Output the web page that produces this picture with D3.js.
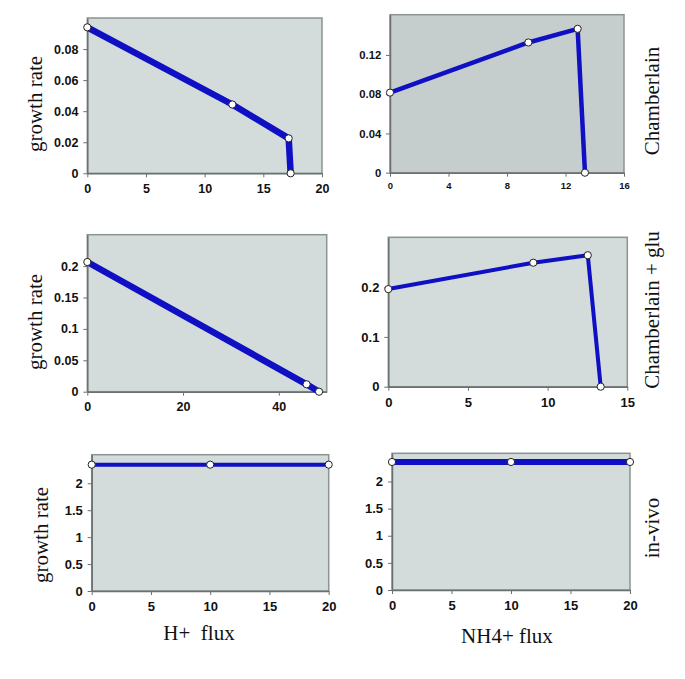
<!DOCTYPE html>
<html><head><meta charset="utf-8">
<script src="https://cdn.jsdelivr.net/npm/d3@7"></script>
<style>body{margin:0;background:#fff}svg{display:block}</style>
</head><body>
<svg id="c" width="685" height="679"></svg>
<script>
// Data
const hChamberlainX = [0, 12.36, 17.16, 17.33];
const hChamberlainY = [0.094, 0.0443, 0.0225, 0];
const nChamberlainX = [0, 9.46, 12.83, 13.33];
const nChamberlainY = [0.0816, 0.1327, 0.1466, 0];
const hGluX = [0, 45.8, 48.4];
const hGluY = [0.2065, 0.0118, 0];
const nGluX = [0, 9.1, 12.52, 13.33];
const nGluY = [0.196, 0.249, 0.264, 0];
const hVivoX = [0, 10, 20];
const hVivoY = [2.345, 2.345, 2.345];
const nVivoX = [0, 10, 20];
const nVivoY = [2.36, 2.36, 2.36];

const xTicks1 = [0, 5, 10, 15, 20];
const yTicks1 = [0, 0.02, 0.04, 0.06, 0.08];
const xTicks2 = [0, 4, 8, 12, 16];
const yTicks2 = [0, 0.04, 0.08, 0.12];
const xTicks3 = [0, 20, 40];
const yTicks3 = [0, 0.05, 0.1, 0.15, 0.2];
const xTicks4 = [0, 5, 10, 15];
const yTicks4 = [0, 0.1, 0.2];
const xTicks5 = [0, 5, 10, 15, 20];
const yTicks5 = [0, 0.5, 1, 1.5, 2];

const rowLabels = ["Chamberlain", "Chamberlain + glu", "in-vivo"];
const colLabels = ["H+  flux", "NH4+ flux"];
const yLabel = "growth rate";

const panels = [
  {x: hChamberlainX, y: hChamberlainY, xd: [0, 20], yd: [0, 0.1], xt: xTicks1, yt: yTicks1,
   box: [87.3, 18, 322, 173.3], bg: "#d3dbdb", lw: 6.5, fsx: 12.5, fsy: 12.5},
  {x: nChamberlainX, y: nChamberlainY, xd: [0, 16], yd: [0, 0.161], xt: xTicks2, yt: yTicks2,
   box: [390, 14.7, 624, 172.7], bg: "#c6cecd", lw: 4.5, fsx: 9.5, fsy: 11.3},
  {x: hGluX, y: hGluY, xd: [0, 50], yd: [0, 0.25], xt: xTicks3, yt: yTicks3,
   box: [87.3, 234.7, 326.7, 391.7], bg: "#d3dbdb", lw: 6.5, fsx: 12.5, fsy: 12.5},
  {x: nGluX, y: nGluY, xd: [0, 15], yd: [0, 0.3], xt: xTicks4, yt: yTicks4,
   box: [388.3, 237.3, 627.3, 386.7], bg: "#d3dbdb", lw: 4, fsx: 13, fsy: 13},
  {x: hVivoX, y: hVivoY, xd: [0, 20], yd: [0, 2.53], xt: xTicks5, yt: yTicks5,
   box: [91.7, 454.7, 328.7, 591], bg: "#d3dbdb", lw: 4, fsx: 13, fsy: 13},
  {x: nVivoX, y: nVivoY, xd: [0, 20], yd: [0, 2.52], xt: xTicks5, yt: yTicks5,
   box: [392, 453.3, 630, 590], bg: "#d3dbdb", lw: 6, fsx: 13, fsy: 13}
];

const svg = d3.select("#c");
const fmt = d => String(+d.toFixed(4));

panels.forEach(p => {
  const [x0, y0, x1, y1] = p.box;
  const xs = d3.scaleLinear().domain(p.xd).range([x0, x1]);
  const ys = d3.scaleLinear().domain(p.yd).range([y1, y0]);
  const g = svg.append("g");
  g.append("rect").attr("x", x0).attr("y", y0).attr("width", x1 - x0).attr("height", y1 - y0)
    .attr("fill", p.bg).attr("stroke", "#8c9393").attr("stroke-width", 1.5);

  const xa = g.append("g").attr("transform", `translate(0,${y1})`)
    .call(d3.axisBottom(xs).tickValues(p.xt).tickSize(4).tickSizeOuter(0).tickFormat(fmt));
  const ya = g.append("g").attr("transform", `translate(${x0},0)`)
    .call(d3.axisLeft(ys).tickValues(p.yt).tickSize(4).tickSizeOuter(0).tickFormat(fmt));
  [xa, ya].forEach(a => {
    a.select(".domain").attr("stroke", "#6a7070").attr("stroke-width", 1.5);
    a.selectAll(".tick line").attr("stroke", "#6a7070");
    a.selectAll("text").attr("fill", "#111").attr("font-family", "Liberation Sans, Arial, sans-serif")
      .attr("font-weight", "bold");
  });
  xa.selectAll("text").attr("font-size", p.fsx).attr("dy", "1.0em");
  ya.selectAll("text").attr("font-size", p.fsy).attr("dx", "-0.15em");

  const pts = p.x.map((v, i) => [v, p.y[i]]);
  g.append("path").datum(pts)
    .attr("d", d3.line().x(d => xs(d[0])).y(d => ys(d[1])))
    .attr("fill", "none").attr("stroke", "#0f0fc4").attr("stroke-width", p.lw)
    .attr("stroke-linejoin", "round");
  g.selectAll("circle.pt").data(pts).join("circle")
    .attr("cx", d => xs(d[0])).attr("cy", d => ys(d[1])).attr("r", 3.6)
    .attr("fill", "#fff").attr("stroke", "#222").attr("stroke-width", 1);
});

const serif = "Liberation Serif, Times New Roman, serif";
[[42, 104], [42, 322], [48, 535]].forEach(([bx, cy]) => {
  svg.append("text").attr("transform", `translate(${bx},${cy}) rotate(-90)`)
    .attr("text-anchor", "middle").attr("font-family", serif).attr("font-size", 21)
    .attr("fill", "#111").text(yLabel);
});
[[101, 0], [310, 1], [528, 2]].forEach(([cy, i]) => {
  svg.append("text").attr("transform", `translate(659,${cy}) rotate(-90)`)
    .attr("text-anchor", "middle").attr("font-family", serif).attr("font-size", 21)
    .attr("fill", "#111").text(rowLabels[i]);
});
[[199, 640, 0], [507, 643, 1]].forEach(([cx, cy, i]) => {
  svg.append("text").attr("x", cx).attr("y", cy).attr("text-anchor", "middle")
    .attr("font-family", serif).attr("font-size", 21).attr("fill", "#111")
    .attr("xml:space", "preserve").style("white-space", "pre").text(colLabels[i]);
});
</script>
</body></html>
